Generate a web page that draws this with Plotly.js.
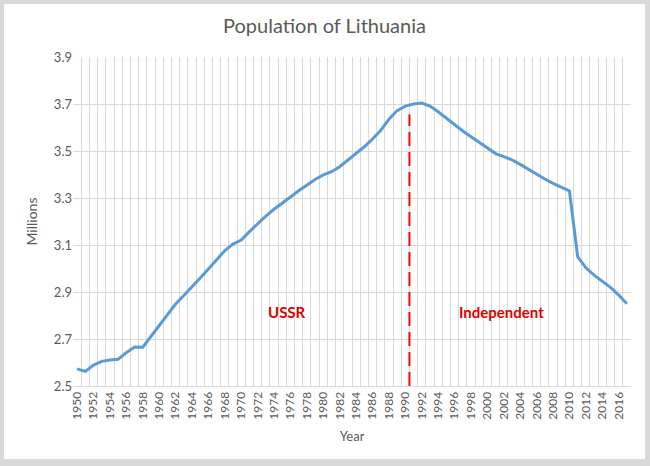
<!DOCTYPE html>
<html>
<head>
<meta charset="utf-8">
<script src="https://cdn.plot.ly/plotly-3.0.1.min.js"></script>
<style>
  html, body { margin: 0; padding: 0; background: #d9d9d9; width: 650px; height: 466px; overflow: hidden; }
  #chart { position: absolute; left: 4px; top: 4px; width: 641px; height: 455px; background: #ffffff; }
</style>
</head>
<body>
<div id="chart"></div>
<script>
const years = [];
for (let y = 1950; y <= 2017; y++) years.push(y);

const population = [
  2.573, 2.562, 2.589, 2.605, 2.611, 2.614, 2.642, 2.666, 2.665, 2.712,
  2.759, 2.805, 2.849, 2.885, 2.921, 2.960, 2.998, 3.038, 3.076, 3.104,
  3.121, 3.157, 3.192, 3.223, 3.252, 3.280, 3.304, 3.331, 3.355, 3.379,
  3.398, 3.412, 3.433, 3.460, 3.490, 3.518, 3.551, 3.588, 3.635, 3.672,
  3.691, 3.700, 3.704, 3.691, 3.667, 3.639, 3.611, 3.585, 3.561, 3.537,
  3.513, 3.489, 3.476, 3.462, 3.443, 3.422, 3.399, 3.381, 3.362, 3.345,
  3.330, 3.050, 3.003, 2.972, 2.944, 2.920, 2.887, 2.850
];

const tickYears = years.filter(y => y % 2 === 0);
const tickLabels = tickYears.map(String);

const independenceX = 1990.5;
const dividerTop = 3.655;

const eras = ["USSR", "Independent"];
const eraX = [1975.6, 2001.7];
const eraY = [2.816, 2.816];

const yTicks = [2.5, 2.7, 2.9, 3.1, 3.3, 3.5, 3.7, 3.9];

const FONT = "Lato, 'Open Sans', sans-serif";
const GRAY = "#595959";
const GRID = "#d9d9d9";

const trace = {
  x: years,
  y: population,
  type: "scatter",
  mode: "lines",
  line: { color: "#5b9bd5", width: 3 },
  hoverinfo: "x+y"
};

const layout = {
  width: 641,
  height: 455,
  margin: { l: 69, r: 14, t: 53, b: 73 },
  paper_bgcolor: "#ffffff",
  plot_bgcolor: "#ffffff",
  showlegend: false,
  font: { family: FONT, color: GRAY, size: 12 },
  title: {
    text: "Population of Lithuania",
    font: { family: FONT, size: 20, color: GRAY },
    x: 0.5, xanchor: "center",
    y: 1 - 22 / 455, yanchor: "middle"
  },
  xaxis: {
    type: "linear",
    range: [1949.5, 2017.5],
    tickmode: "array",
    tickvals: tickYears,
    ticktext: tickLabels,
    tickangle: -90,
    tickfont: { family: FONT, size: 12, color: GRAY },
    ticks: "",
    showgrid: false,
    zeroline: false,
    showline: true,
    linecolor: GRID,
    linewidth: 1,
    minor: { tick0: 1949.5, dtick: 1, showgrid: true, gridcolor: GRID, gridwidth: 1, ticks: "" },
    title: { text: "Year", font: { family: FONT, size: 13, color: GRAY }, standoff: 13 },
    fixedrange: true
  },
  yaxis: {
    range: [2.5, 3.9],
    tickmode: "array",
    tickvals: yTicks,
    ticktext: yTicks.map(v => v.toFixed(1)),
    tickfont: { family: FONT, size: 13, color: GRAY },
    ticks: "",
    showgrid: true,
    gridcolor: GRID,
    gridwidth: 1,
    zeroline: false,
    showline: false,
    title: { text: "Millions", font: { family: FONT, size: 14, color: GRAY }, standoff: 12 },
    fixedrange: true
  },
  shapes: [
    {
      type: "line",
      xref: "x", yref: "y",
      x0: independenceX, x1: independenceX,
      y0: 2.5, y1: dividerTop,
      line: { color: "#ff0000", width: 2, dash: "14px,6px" },
      layer: "above"
    }
  ],
  annotations: eras.map((t, i) => ({
    text: "<b>" + t + "</b>",
    x: eraX[i], y: eraY[i],
    xref: "x", yref: "y",
    showarrow: false,
    font: { family: FONT, size: 15, color: "#e00000" }
  }))
};

Plotly.newPlot("chart", [trace], layout, { displayModeBar: false, staticPlot: true });
</script>
</body>
</html>
